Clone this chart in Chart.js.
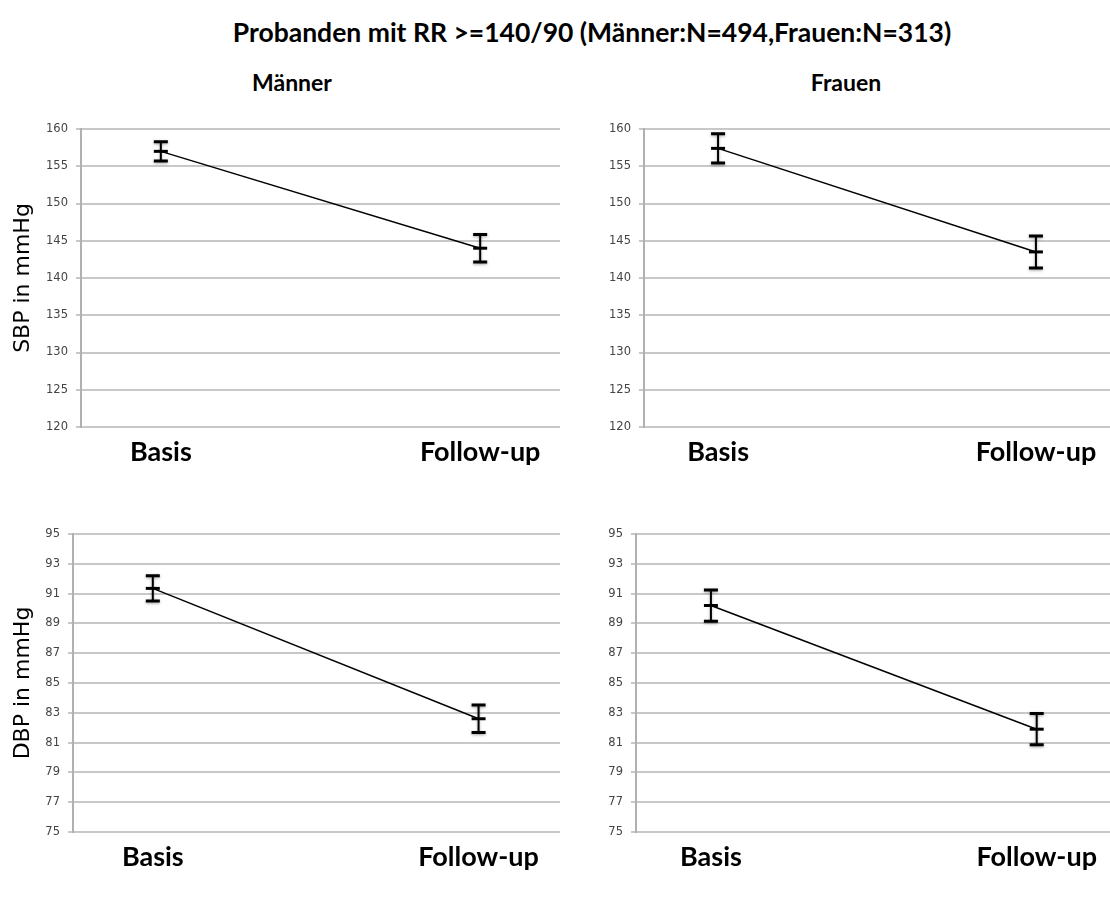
<!DOCTYPE html>
<html>
<head>
<meta charset="utf-8">
<script src="https://cdn.jsdelivr.net/npm/chart.js@4.4.0/dist/chart.umd.min.js"></script>
<style>
  body { margin: 0; background: #fff; width: 1110px; height: 898px; overflow: hidden; position: relative; }
  .txt { position: absolute; font-family: Lato, sans-serif; font-weight: bold; color: #000; white-space: nowrap; transform: translate(-50%, -50%); }
  .box { position: absolute; }
</style>
</head>
<body>
<div class="txt" style="left:592px; top:32px; font-size:26.5px;">Probanden mit RR &gt;=140/90 (Männer:N=494,Frauen:N=313)</div>
<div class="txt" style="left:292px; top:82px; font-size:23px;">Männer</div>
<div class="txt" style="left:846px; top:82px; font-size:23px;">Frauen</div>

<div class="box" style="left:0; top:119px; width:570px; height:358px;"><canvas id="sbpM"></canvas></div>
<div class="box" style="left:563px; top:119px; width:557px; height:358px;"><canvas id="sbpF"></canvas></div>
<div class="box" style="left:0; top:524px; width:570px; height:358px;"><canvas id="dbpM"></canvas></div>
<div class="box" style="left:563px; top:524px; width:557px; height:358px;"><canvas id="dbpF"></canvas></div>

<script>
// Zeitpunkte
const categories = ['Basis', 'Follow-up'];

// Mittelwerte und Fehlerbalken (mmHg)
const sbpMaenner = [157.0, 144.0];
const sbpMaennerErr = [1.3, 1.85];
const sbpFrauen = [157.4, 143.5];
const sbpFrauenErr = [1.95, 2.15];
const dbpMaenner = [91.35, 82.6];
const dbpMaennerErr = [0.85, 0.93];
const dbpFrauen = [90.2, 81.9];
const dbpFrauenErr = [1.05, 1.05];

// Achsenbeschriftung
const sbpTicks = [120, 125, 130, 135, 140, 145, 150, 155, 160];
const dbpTicks = [75, 77, 79, 81, 83, 85, 87, 89, 91, 93, 95];

const errorBars = {
  id: 'errorBars',
  afterDatasetsDraw(chart) {
    const ctx = chart.ctx;
    const xs = chart.scales.x, ys = chart.scales.y;
    chart.data.datasets.forEach(ds => {
      ds.data.forEach((p, i) => {
        const e = ds.errors[i];
        const x = xs.getPixelForValue(p.x);
        const top = ys.getPixelForValue(p.y + e);
        const bot = ys.getPixelForValue(p.y - e);
        ctx.save();
        ctx.strokeStyle = '#000';
        ctx.shadowColor = 'rgba(0,0,0,0.35)';
        ctx.shadowBlur = 3;
        ctx.shadowOffsetY = 1;
        ctx.lineWidth = 2;
        ctx.beginPath();
        ctx.moveTo(x, top); ctx.lineTo(x, bot);
        ctx.stroke();
        ctx.lineWidth = 3;
        ctx.beginPath();
        ctx.moveTo(x - 7, top); ctx.lineTo(x + 7, top);
        ctx.moveTo(x - 7, bot); ctx.lineTo(x + 7, bot);
        ctx.stroke();
        ctx.restore();
      });
    });
  }
};

function makeChart(id, values, errs, ticks, yTitle, axisWidth, xMin, xMax) {
  const ctx = document.getElementById(id).getContext('2d');
  return new Chart(ctx, {
    type: 'line',
    data: {
      datasets: [{
        data: values.map((v, i) => ({ x: i, y: v })),
        errors: errs,
        borderColor: '#000',
        borderWidth: 1.5,
        pointStyle: 'line',
        pointRadius: 7,
        pointBorderWidth: 3,
        pointBorderColor: '#000',
        fill: false,
        tension: 0
      }]
    },
    options: {
      responsive: true,
      maintainAspectRatio: false,
      animation: false,
      layout: { padding: { top: 10, left: 0, right: 0, bottom: 0 } },
      plugins: { legend: { display: false }, tooltip: { enabled: false } },
      scales: {
        x: {
          type: 'linear',
          min: xMin,
          max: xMax,
          afterBuildTicks: s => { s.ticks = categories.map((c, i) => ({ value: i })); },
          afterFit: s => { s.height = 50; s.paddingLeft = 0; s.paddingRight = 0; },
          ticks: {
            callback: v => categories[v],
            padding: 1,
            color: '#000',
            font: { family: 'Lato', weight: 'bold', size: 27 },
            maxRotation: 0
          },
          grid: { display: false },
          border: { display: false }
        },
        y: {
          min: ticks[0],
          max: ticks[ticks.length - 1],
          afterBuildTicks: s => { s.ticks = ticks.map(v => ({ value: v })); },
          afterFit: s => { s.width = axisWidth; s.paddingTop = 0; s.paddingBottom = 0; },
          ticks: {
            padding: 8,
            color: '#444',
            font: { family: 'DejaVu Sans', size: 11.5 }
          },
          grid: { color: '#c8c8c8', lineWidth: 2, tickLength: 5 },
          border: { color: '#b0b0b0', width: 2 },
          title: {
            display: !!yTitle,
            text: yTitle,
            color: '#000',
            font: { family: 'DejaVu Sans', size: 22 },
            padding: { top: 10, bottom: 0 }
          }
        }
      }
    },
    plugins: [errorBars]
  });
}

makeChart('sbpM', sbpMaenner, sbpMaennerErr, sbpTicks, 'SBP in mmHg', 81, -0.25, 1.25);
makeChart('sbpF', sbpFrauen, sbpFrauenErr, sbpTicks, '', 81, -0.233, 1.233);
makeChart('dbpM', dbpMaenner, dbpMaennerErr, dbpTicks, 'DBP in mmHg', 73, -0.245, 1.25);
makeChart('dbpF', dbpFrauen, dbpFrauenErr, dbpTicks, '', 73, -0.23, 1.225);
</script>
</body>
</html>
